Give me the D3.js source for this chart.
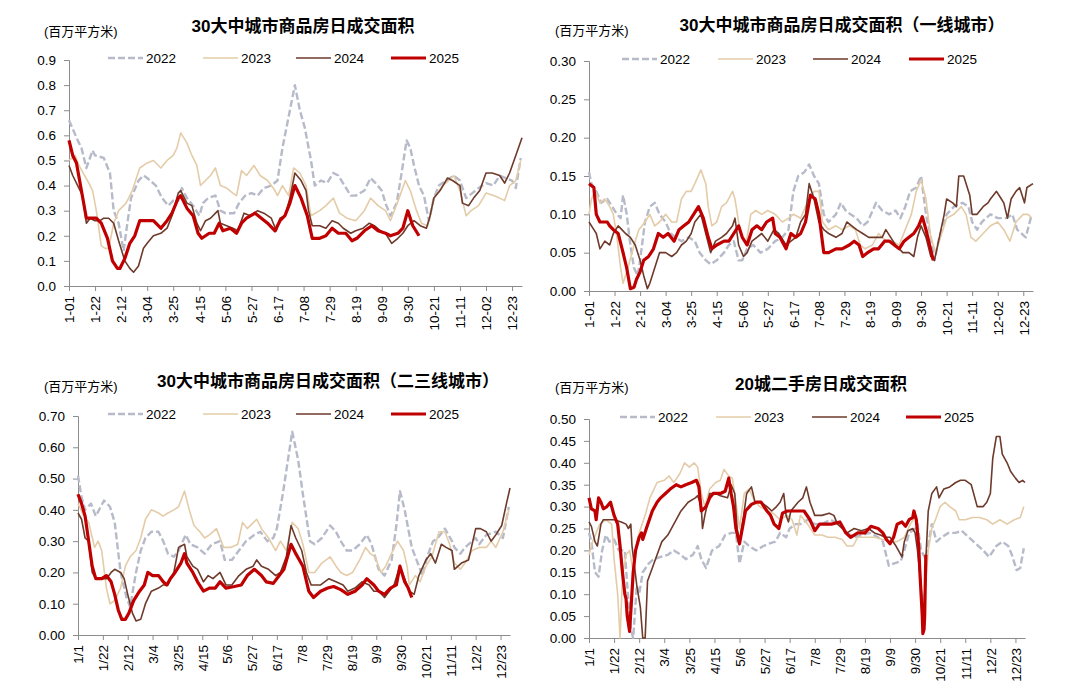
<!DOCTYPE html>
<html>
<head>
<meta charset="utf-8">
<script src="https://cdn.jsdelivr.net/npm/d3@7"></script>
<style>
  body { margin: 0; background: #fff; }
  text { font-family: "Liberation Sans", Arial, "Noto Sans CJK SC", sans-serif; }
</style>
</head>
<body>
<svg id="chart" width="1080" height="690"></svg>
<script>
// x positions are day-of-year (0 = Jan 1)
var tickDays = d3.range(0, 358, 21);
var tickDash = ["1-01","1-22","2-12","3-04","3-25","4-15","5-06","5-27","6-17","7-08","7-29","8-19","9-09","9-30","10-21","11-11","12-02","12-23"];
var tickSlash = ["1/1","1/22","2/12","3/4","3/25","4/15","5/6","5/27","6/17","7/8","7/29","8/19","9/9","9/30","10/21","11/11","12/2","12/23"];
var years = ["2022", "2023", "2024", "2025"];

// 30大中城市 total
var p1_2022 = [[0,.66],[7,.58],[10,.55],[14,.47],[19,.54],[21,.52],[28,.51],[33,.45],[36,.30],[40,.25],[44,.14],[47,.25],[50,.35],[56,.42],[60,.44],[63,.43],[70,.40],[75,.35],[80,.32],[84,.34],[88,.34],[91,.39],[95,.35],[100,.32],[105,.28],[108,.33],[112,.35],[118,.36],[122,.30],[126,.29],[133,.29],[137,.33],[142,.36],[147,.37],[152,.36],[157,.39],[163,.40],[168,.42],[172,.55],[176,.65],[182,.80],[186,.70],[190,.63],[195,.50],[198,.40],[203,.42],[208,.41],[213,.45],[217,.44],[222,.40],[227,.36],[231,.36],[238,.38],[243,.43],[247,.41],[252,.38],[255,.33],[259,.28],[264,.33],[268,.45],[272,.58],[275,.55],[278,.48],[282,.40],[286,.36],[290,.26],[294,.35],[298,.40],[304,.42],[310,.44],[315,.42],[320,.35],[325,.37],[330,.39],[336,.41],[342,.40],[347,.44],[352,.43],[357,.42],[360,.39],[364,.51]];
var p1_2023 = [[0,.50],[5,.52],[8,.48],[16,.41],[19,.38],[22,.30],[26,.16],[29,.15],[32,.15],[36,.25],[40,.30],[46,.33],[51,.38],[57,.47],[63,.49],[68,.50],[74,.47],[79,.50],[84,.52],[87,.55],[90,.61],[95,.57],[99,.52],[103,.48],[106,.40],[110,.42],[114,.44],[118,.47],[122,.40],[127,.39],[132,.37],[135,.36],[139,.46],[143,.44],[149,.48],[154,.44],[160,.42],[166,.38],[168,.36],[172,.40],[177,.36],[181,.47],[186,.45],[191,.40],[195,.28],[202,.30],[207,.32],[213,.35],[218,.29],[224,.27],[231,.26],[238,.30],[243,.35],[249,.32],[255,.30],[259,.26],[266,.35],[271,.42],[275,.38],[280,.30],[284,.25],[289,.24],[294,.35],[301,.40],[306,.42],[310,.44],[315,.38],[320,.28],[324,.30],[330,.32],[336,.37],[342,.36],[347,.35],[351,.34],[355,.40],[360,.42],[364,.50]];
var p1_2024 = [[0,.48],[3,.44],[7,.40],[11,.36],[14,.25],[17,.27],[21,.26],[25,.26],[28,.27],[32,.27],[36,.25],[40,.18],[45,.10],[49,.07],[52,.055],[56,.08],[60,.15],[63,.17],[68,.20],[74,.21],[79,.23],[83,.28],[88,.37],[90,.38],[95,.33],[99,.32],[103,.25],[106,.22],[110,.26],[114,.27],[120,.30],[122,.25],[127,.24],[132,.23],[136,.22],[141,.29],[146,.28],[152,.30],[157,.29],[163,.27],[167,.22],[170,.27],[174,.28],[178,.35],[182,.45],[187,.42],[191,.38],[193,.30],[196,.24],[202,.24],[207,.23],[212,.26],[217,.25],[221,.23],[227,.21],[231,.22],[237,.23],[242,.25],[246,.24],[251,.22],[255,.21],[260,.17],[265,.19],[269,.21],[273,.24],[278,.26],[283,.24],[288,.23],[291,.28],[294,.35],[299,.38],[305,.43],[309,.42],[315,.40],[317,.33],[322,.32],[326,.35],[331,.38],[336,.45],[341,.45],[347,.44],[351,.41],[355,.45],[360,.52],[365,.59]];
var p1_2025 = [[0,.58],[3,.52],[6,.49],[10,.38],[14,.27],[18,.27],[22,.27],[26,.25],[31,.19],[35,.10],[39,.07],[41,.07],[45,.11],[49,.17],[53,.20],[57,.26],[63,.26],[68,.26],[74,.23],[79,.26],[83,.29],[88,.35],[90,.36],[95,.31],[100,.28],[104,.21],[107,.19],[113,.21],[117,.21],[121,.25],[124,.22],[130,.23],[135,.21],[139,.25],[143,.27],[150,.29],[155,.27],[160,.25],[166,.22],[170,.26],[174,.28],[178,.33],[182,.40],[187,.35],[192,.28],[196,.19],[202,.19],[207,.20],[212,.23],[217,.21],[223,.21],[228,.18],[232,.19],[238,.22],[244,.24],[249,.22],[255,.21],[259,.20],[265,.21],[269,.23],[273,.30],[277,.24],[282,.20]];

// 一线城市
var p2_2022 = [[0,.155],[2,.14],[6,.13],[10,.115],[15,.12],[19,.11],[23,.10],[26,.095],[28,.125],[31,.10],[34,.06],[37,.03],[40,.02],[42,.04],[46,.09],[50,.11],[54,.115],[58,.10],[63,.09],[67,.075],[71,.07],[76,.065],[82,.07],[87,.065],[91,.05],[96,.04],[100,.035],[105,.04],[111,.05],[115,.06],[119,.065],[123,.04],[126,.04],[130,.055],[135,.06],[141,.05],[147,.055],[153,.065],[159,.07],[164,.08],[168,.13],[172,.15],[177,.155],[181,.165],[185,.15],[189,.14],[193,.10],[197,.09],[203,.10],[207,.115],[211,.105],[215,.10],[220,.095],[225,.085],[229,.09],[236,.115],[241,.105],[247,.10],[252,.105],[256,.095],[260,.11],[264,.13],[269,.135],[273,.15],[277,.10],[281,.07],[284,.04],[288,.07],[294,.10],[300,.11],[307,.115],[312,.11],[315,.09],[319,.08],[323,.09],[330,.10],[336,.095],[343,.095],[348,.10],[352,.08],[359,.07],[364,.10]];
var p2_2023 = [[0,.10],[2,.12],[5,.13],[9,.115],[13,.12],[17,.11],[20,.10],[23,.07],[26,.03],[28,.01],[32,.03],[37,.06],[41,.08],[46,.09],[50,.10],[54,.085],[58,.09],[63,.10],[68,.09],[72,.09],[76,.12],[80,.13],[84,.13],[87,.14],[92,.158],[96,.14],[98,.11],[101,.085],[105,.09],[109,.11],[113,.115],[118,.13],[120,.12],[124,.08],[129,.06],[133,.10],[137,.105],[142,.10],[147,.105],[153,.10],[159,.09],[164,.095],[168,.10],[174,.095],[178,.11],[182,.12],[185,.13],[189,.13],[192,.09],[197,.08],[203,.085],[208,.08],[214,.085],[219,.08],[223,.06],[227,.055],[233,.06],[238,.075],[244,.065],[249,.065],[255,.06],[260,.08],[265,.10],[269,.13],[273,.145],[277,.12],[281,.07],[285,.05],[289,.07],[294,.095],[300,.10],[306,.11],[310,.10],[314,.07],[318,.065],[324,.075],[330,.085],[336,.09],[341,.08],[346,.065],[351,.09],[357,.10],[361,.10],[364,.095]];
var p2_2024 = [[0,.09],[4,.08],[6,.075],[9,.055],[13,.065],[17,.06],[20,.075],[24,.085],[27,.08],[30,.075],[34,.07],[38,.06],[42,.04],[45,.02],[48,.003],[50,.01],[54,.03],[58,.05],[63,.05],[68,.045],[72,.05],[76,.06],[80,.065],[84,.075],[87,.09],[92,.10],[96,.075],[100,.05],[104,.065],[109,.07],[113,.075],[118,.085],[120,.095],[123,.06],[127,.045],[130,.05],[134,.065],[138,.07],[142,.075],[147,.065],[152,.08],[156,.075],[162,.06],[166,.065],[170,.07],[174,.09],[178,.10],[181,.14],[185,.12],[189,.09],[193,.08],[197,.075],[203,.07],[208,.075],[212,.09],[216,.085],[220,.08],[225,.075],[230,.07],[236,.07],[241,.07],[244,.08],[248,.07],[252,.06],[258,.05],[263,.05],[267,.045],[270,.07],[273,.085],[277,.07],[281,.045],[284,.04],[288,.07],[292,.10],[294,.12],[299,.115],[302,.11],[304,.15],[308,.15],[313,.125],[315,.10],[319,.10],[324,.11],[328,.115],[330,.12],[335,.13],[339,.12],[341,.115],[344,.095],[347,.12],[351,.13],[354,.135],[358,.115],[360,.135],[365,.14]];
var p2_2025 = [[0,.14],[4,.135],[6,.10],[9,.09],[15,.09],[17,.085],[20,.08],[24,.075],[28,.05],[31,.03],[34,.003],[37,.005],[39,.015],[42,.025],[45,.04],[49,.045],[53,.055],[57,.075],[61,.07],[65,.075],[70,.065],[74,.08],[78,.085],[82,.09],[86,.10],[90,.11],[94,.095],[98,.07],[101,.055],[105,.06],[111,.065],[115,.065],[119,.075],[123,.085],[126,.07],[130,.06],[134,.08],[138,.085],[142,.08],[146,.09],[151,.095],[153,.075],[157,.07],[162,.055],[166,.075],[170,.07],[174,.075],[178,.09],[182,.125],[186,.12],[189,.10],[193,.05],[197,.05],[203,.055],[208,.055],[214,.06],[218,.065],[222,.06],[225,.045],[229,.05],[234,.055],[238,.055],[243,.065],[247,.065],[251,.06],[255,.055],[259,.065],[263,.07],[267,.075],[271,.085],[274,.097],[277,.08],[280,.06],[283,.04]];

// 二三线城市
var p3_2022 = [[0,.51],[3,.44],[6,.40],[11,.42],[15,.38],[22,.43],[27,.41],[31,.36],[36,.20],[41,.12],[44,.09],[49,.20],[53,.27],[57,.31],[62,.33],[68,.33],[72,.30],[76,.26],[81,.25],[85,.27],[91,.32],[95,.29],[101,.28],[107,.26],[113,.29],[120,.30],[124,.24],[130,.24],[136,.27],[142,.30],[149,.32],[154,.33],[160,.30],[165,.31],[168,.34],[173,.45],[177,.55],[181,.65],[186,.56],[190,.45],[196,.30],[200,.29],[206,.31],[213,.35],[218,.33],[222,.30],[227,.27],[232,.27],[238,.29],[244,.32],[248,.29],[254,.21],[259,.19],[265,.24],[269,.35],[272,.46],[276,.40],[282,.28],[286,.24],[291,.19],[295,.25],[300,.30],[304,.31],[310,.34],[316,.30],[318,.28],[323,.26],[327,.28],[333,.30],[336,.31],[339,.29],[345,.32],[353,.33],[359,.31],[364,.41]];
var p3_2023 = [[0,.42],[5,.38],[9,.36],[14,.28],[17,.30],[20,.27],[24,.15],[27,.10],[31,.11],[36,.15],[40,.22],[44,.25],[49,.27],[53,.31],[57,.37],[62,.40],[68,.39],[72,.38],[76,.39],[81,.40],[85,.41],[90,.46],[94,.40],[98,.35],[103,.33],[107,.31],[111,.32],[117,.34],[123,.28],[129,.28],[135,.29],[139,.36],[143,.34],[151,.37],[155,.34],[161,.31],[167,.27],[171,.30],[176,.27],[181,.36],[186,.34],[190,.29],[195,.20],[200,.20],[206,.23],[213,.25],[218,.22],[222,.20],[227,.19],[232,.20],[238,.24],[243,.28],[247,.26],[251,.25],[256,.20],[260,.22],[266,.27],[270,.30],[275,.27],[278,.22],[280,.16],[285,.19],[289,.17],[294,.22],[299,.25],[305,.33],[310,.33],[314,.29],[318,.23],[323,.21],[327,.23],[333,.27],[339,.28],[345,.28],[349,.30],[353,.28],[359,.33],[364,.40]];
var p3_2024 = [[0,.39],[3,.37],[6,.31],[9,.30],[12,.20],[15,.18],[20,.18],[24,.18],[28,.20],[31,.21],[36,.20],[39,.18],[42,.13],[46,.07],[49,.045],[53,.05],[57,.10],[62,.14],[68,.15],[72,.16],[76,.16],[81,.20],[85,.28],[90,.29],[92,.25],[97,.22],[101,.21],[106,.17],[110,.19],[114,.18],[120,.20],[125,.16],[130,.16],[136,.19],[142,.21],[148,.22],[151,.24],[155,.22],[161,.21],[167,.19],[171,.20],[176,.25],[180,.35],[184,.31],[189,.27],[193,.20],[197,.16],[205,.16],[212,.18],[218,.17],[224,.16],[228,.14],[234,.15],[240,.17],[246,.16],[250,.14],[254,.14],[259,.12],[263,.14],[267,.16],[272,.22],[276,.18],[280,.14],[284,.13],[288,.19],[294,.24],[298,.26],[302,.23],[307,.29],[311,.28],[316,.27],[318,.21],[324,.23],[330,.24],[336,.34],[340,.34],[345,.33],[349,.30],[353,.32],[358,.35],[362,.42],[365,.47]];
var p3_2025 = [[0,.45],[3,.42],[6,.38],[9,.30],[12,.22],[15,.18],[20,.18],[24,.19],[28,.17],[31,.13],[34,.08],[37,.05],[40,.05],[43,.07],[47,.11],[52,.14],[56,.16],[59,.20],[63,.19],[68,.19],[72,.17],[75,.16],[78,.18],[82,.20],[87,.23],[90,.26],[92,.23],[97,.20],[101,.17],[106,.14],[111,.15],[116,.15],[120,.17],[125,.15],[132,.155],[138,.16],[143,.19],[149,.21],[155,.19],[159,.17],[165,.165],[170,.19],[174,.21],[180,.29],[184,.26],[190,.22],[195,.14],[199,.12],[205,.14],[211,.15],[216,.155],[222,.145],[228,.13],[234,.14],[240,.16],[244,.18],[250,.16],[254,.14],[259,.13],[264,.15],[269,.16],[272,.22],[276,.17],[279,.15],[282,.12]];

// 20城二手房
var p4_2022 = [[0,.24],[2,.22],[5,.15],[8,.14],[11,.20],[14,.235],[17,.22],[21,.225],[25,.20],[30,.20],[32,.12],[35,.02],[37,.00],[40,.12],[42,.10],[45,.15],[50,.17],[54,.18],[60,.185],[66,.19],[71,.20],[77,.19],[81,.18],[87,.19],[91,.21],[94,.18],[98,.16],[103,.20],[109,.21],[114,.235],[119,.24],[123,.24],[126,.17],[130,.22],[134,.21],[140,.20],[146,.21],[150,.215],[156,.22],[160,.24],[165,.23],[168,.25],[173,.26],[177,.26],[183,.27],[189,.26],[195,.26],[202,.27],[210,.26],[216,.24],[222,.23],[228,.235],[235,.24],[242,.23],[246,.22],[251,.165],[255,.17],[261,.175],[264,.20],[268,.24],[273,.25],[275,.26],[278,.20],[282,.18],[287,.26],[291,.22],[295,.23],[301,.24],[307,.24],[312,.245],[318,.23],[324,.215],[330,.20],[335,.185],[341,.21],[346,.22],[351,.21],[354,.19],[358,.155],[361,.16],[364,.205]];
var p4_2023 = [[0,.19],[3,.22],[9,.26],[14,.27],[19,.26],[21,.18],[24,.10],[26,.00],[28,.14],[31,.19],[34,.20],[37,.15],[40,.22],[42,.24],[47,.28],[51,.32],[57,.355],[63,.36],[67,.37],[71,.355],[76,.375],[80,.40],[84,.39],[88,.40],[91,.39],[94,.33],[97,.30],[101,.34],[106,.355],[110,.36],[113,.385],[117,.37],[120,.365],[123,.31],[126,.25],[130,.33],[134,.34],[139,.31],[143,.30],[149,.29],[154,.285],[160,.27],[166,.28],[170,.27],[174,.235],[177,.28],[183,.26],[189,.235],[195,.235],[200,.23],[206,.23],[212,.225],[216,.21],[221,.21],[225,.23],[232,.23],[239,.23],[246,.225],[252,.22],[258,.22],[264,.23],[269,.26],[274,.28],[277,.18],[279,.05],[281,.10],[284,.20],[287,.25],[290,.27],[294,.30],[298,.31],[302,.30],[307,.29],[310,.27],[315,.27],[321,.275],[327,.275],[333,.27],[338,.26],[344,.27],[350,.26],[356,.27],[361,.275],[364,.30]];
var p4_2024 = [[0,.265],[2,.255],[5,.22],[7,.21],[10,.26],[12,.27],[17,.27],[21,.27],[27,.265],[31,.26],[33,.25],[35,.26],[36,.21],[40,.12],[43,.07],[45,.00],[47,.00],[49,.13],[53,.16],[57,.19],[61,.22],[66,.235],[71,.26],[77,.29],[83,.31],[89,.32],[91,.325],[94,.30],[95,.25],[97,.28],[101,.33],[106,.33],[110,.325],[116,.32],[119,.35],[122,.33],[124,.25],[126,.22],[129,.27],[132,.33],[136,.345],[139,.31],[144,.31],[149,.30],[153,.29],[157,.30],[160,.31],[163,.33],[165,.28],[167,.265],[169,.29],[175,.31],[179,.32],[182,.345],[185,.31],[189,.28],[195,.28],[201,.285],[205,.28],[208,.26],[212,.25],[216,.24],[222,.25],[228,.245],[234,.25],[239,.24],[244,.235],[248,.23],[252,.23],[257,.21],[259,.20],[262,.185],[264,.22],[267,.245],[271,.25],[273,.24],[275,.20],[278,.12],[280,.02],[282,.18],[284,.29],[287,.33],[291,.345],[293,.32],[297,.34],[302,.345],[307,.355],[311,.36],[315,.36],[320,.35],[323,.32],[325,.30],[330,.30],[333,.31],[336,.33],[338,.41],[341,.46],[344,.46],[346,.42],[350,.40],[353,.38],[357,.365],[360,.355],[363,.36],[365,.355]];
var p4_2025 = [[0,.32],[2,.295],[5,.29],[6,.27],[8,.32],[10,.31],[12,.295],[15,.30],[18,.31],[21,.28],[24,.26],[26,.21],[28,.15],[30,.10],[31,.09],[32,.05],[34,.015],[35,.06],[37,.15],[39,.20],[42,.23],[44,.24],[45,.225],[48,.25],[53,.29],[57,.31],[60,.32],[64,.33],[68,.34],[73,.35],[77,.345],[81,.35],[86,.355],[90,.36],[92,.345],[94,.29],[98,.30],[101,.32],[104,.33],[110,.33],[114,.335],[117,.365],[119,.33],[121,.30],[123,.25],[126,.215],[129,.26],[131,.29],[136,.305],[140,.31],[144,.31],[149,.29],[152,.28],[155,.26],[159,.25],[162,.285],[166,.29],[172,.29],[176,.29],[180,.29],[185,.27],[189,.245],[193,.26],[198,.26],[203,.26],[210,.265],[215,.24],[219,.23],[225,.24],[231,.24],[236,.255],[242,.25],[246,.24],[249,.225],[252,.215],[255,.23],[258,.26],[262,.265],[265,.255],[268,.27],[271,.275],[272,.29],[274,.27],[276,.21],[277,.15],[279,.05],[279.5,.01],[280.5,.02],[281,.05],[282,.19]];

var styles = {
  "2022": { color: "#b6bac9", width: 2.4, dash: "7,3" },
  "2023": { color: "#e4cca9", width: 1.6, dash: null },
  "2024": { color: "#6d3a2b", width: 1.6, dash: null },
  "2025": { color: "#c00000", width: 3.2, dash: null }
};

var panels = [
  { title: "30大中城市商品房日成交面积", tx: 303, ty: 32, ux: 44, uy: 36,
    x0: 69, x1: 522, yTop: 60, yBot: 286, yMax: 0.9, yStep: 0.1, fmt: ".1f",
    labels: tickDash, legY: 58, legX: [108, 203, 296, 391],
    series: [p1_2022, p1_2023, p1_2024, p1_2025] },
  { title: "30大中城市商品房日成交面积（一线城市）", tx: 842, ty: 31, ux: 555, uy: 35,
    x0: 589, x1: 1033, yTop: 61, yBot: 291, yMax: 0.30, yStep: 0.05, fmt: ".2f",
    labels: tickDash, legY: 59, legX: [622, 718, 813, 909],
    series: [p2_2022, p2_2023, p2_2024, p2_2025] },
  { title: "30大中城市商品房日成交面积（二三线城市）", tx: 328, ty: 387, ux: 44, uy: 391,
    x0: 78, x1: 510, yTop: 416, yBot: 635, yMax: 0.70, yStep: 0.1, fmt: ".2f",
    labels: tickSlash, legY: 414, legX: [108, 203, 296, 391],
    series: [p3_2022, p3_2023, p3_2024, p3_2025] },
  { title: "20城二手房日成交面积", tx: 821, ty: 390, ux: 555, uy: 392,
    x0: 589, x1: 1025, yTop: 419, yBot: 638, yMax: 0.50, yStep: 0.05, fmt: ".2f",
    labels: tickSlash, legY: 417, legX: [620, 716, 812, 906],
    series: [p4_2022, p4_2023, p4_2024, p4_2025] }
];

var svg = d3.select("#chart");
svg.append("rect").attr("width", 1080).attr("height", 690).attr("fill", "#fff");

panels.forEach(function (p) {
  var g = svg.append("g");
  var x = d3.scaleLinear().domain([0, 365]).range([p.x0, p.x1]);
  var y = d3.scaleLinear().domain([0, p.yMax]).range([p.yBot, p.yTop]);

  g.append("text").attr("x", p.tx).attr("y", p.ty)
    .attr("text-anchor", "middle").attr("font-size", 17).attr("font-weight", "bold")
    .attr("fill", "#000").text(p.title);
  g.append("text").attr("x", p.ux).attr("y", p.uy)
    .attr("font-size", 13).attr("fill", "#000").text("(百万平方米)");

  var yTicks = d3.range(0, p.yMax + p.yStep / 2, p.yStep);
  var ya = g.append("g").attr("transform", "translate(" + p.x0 + ",0)")
    .call(d3.axisLeft(y).tickValues(yTicks).tickFormat(d3.format(p.fmt)).tickSize(5).tickPadding(8));
  ya.select(".domain").attr("stroke", "#8c8c8c");
  ya.selectAll(".tick line").attr("stroke", "#8c8c8c");
  ya.selectAll("text").attr("font-size", 13.5).attr("fill", "#000")
    .style("font-family", "'Liberation Sans', Arial, sans-serif");

  var xa = g.append("g").attr("transform", "translate(0," + p.yBot + ")")
    .call(d3.axisBottom(x).tickValues(tickDays).tickFormat(function (d, i) { return p.labels[i]; }).tickSize(5).tickSizeOuter(0));
  xa.select(".domain").attr("stroke", "#8c8c8c");
  xa.selectAll(".tick line").attr("stroke", "#8c8c8c");
  xa.selectAll("text").attr("font-size", 13.5).attr("fill", "#000")
    .style("font-family", "'Liberation Sans', Arial, sans-serif")
    .attr("transform", "rotate(-90)").attr("x", -10).attr("y", 0).attr("dy", "0.35em")
    .style("text-anchor", "end");

  var line = d3.line().x(function (d) { return x(d[0]); }).y(function (d) { return y(d[1]); });

  p.series.forEach(function (s, i) {
    var st = styles[years[i]];
    g.append("path").datum(s).attr("d", line)
      .attr("fill", "none").attr("stroke", st.color).attr("stroke-width", st.width)
      .attr("stroke-linejoin", "round")
      .attr("stroke-dasharray", st.dash);

    var lx = p.legX[i];
    g.append("line").attr("x1", lx).attr("x2", lx + 35).attr("y1", p.legY).attr("y2", p.legY)
      .attr("stroke", st.color).attr("stroke-width", st.width).attr("stroke-dasharray", st.dash);
    g.append("text").attr("x", lx + 38).attr("y", p.legY).attr("dy", "0.35em")
      .attr("font-size", 13.5).attr("fill", "#000").text(years[i]);
  });
});
</script>
</body>
</html>
